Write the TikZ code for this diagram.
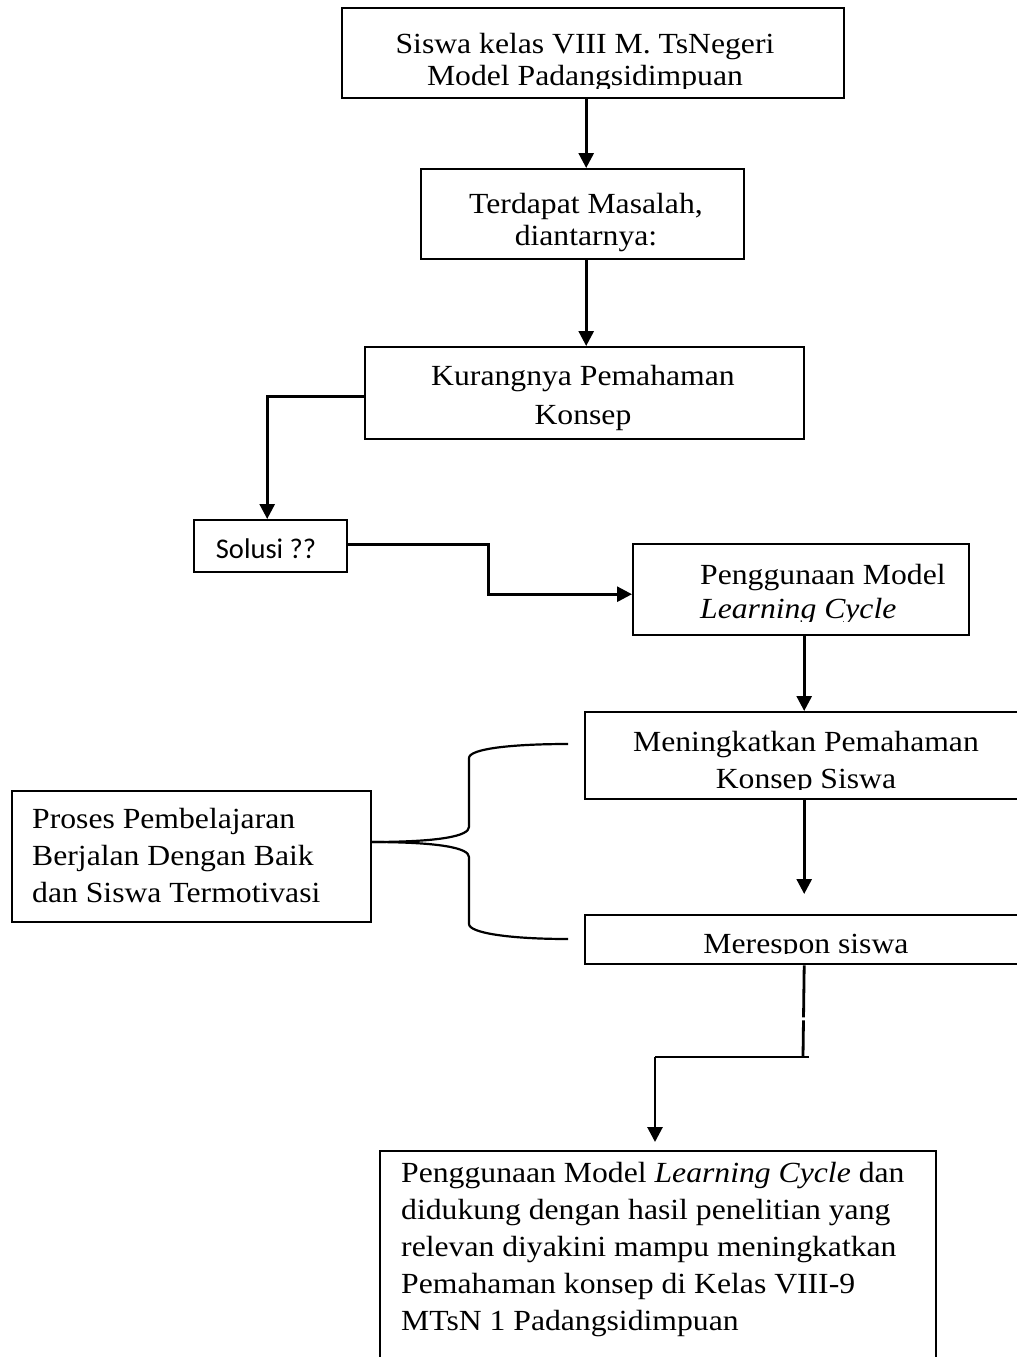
\documentclass[tikz,border=0pt]{standalone}
\usepackage{fontspec}
\setmainfont{Liberation Serif}[FakeStretch=1.085]
\newfontfamily\calibrifont{Carlito}
\usetikzlibrary{arrows.meta}

\tikzset{
  boxshape/.style={draw, line width=2.4pt, inner sep=0pt, anchor=north west},
  txt/.style={inner sep=0pt, anchor=base, align=center},
  conn/.style={line width=2.8pt},
  arr/.style={conn, -{Triangle[length=15pt,width=15pt]}},
  bracepath/.style={line width=2.2pt},
}

\begin{document}
\begin{tikzpicture}[x=1pt,y=-1pt]
\clip (0,0) rectangle (1017,1357);
\fill[white] (0,0) rectangle (1017,1357);

% boxes
\node[boxshape, minimum width=502pt, minimum height=90pt] (top) at (341,7) {};
\node[boxshape, minimum width=323pt, minimum height=90pt] (terd) at (420,168) {};
\node[boxshape, minimum width=439pt, minimum height=92pt] (kur) at (364,346) {};
\node[boxshape, minimum width=153pt, minimum height=52pt] (sol) at (193,519) {};
\node[boxshape, minimum width=336pt, minimum height=91pt] (peng) at (632,543) {};
\node[boxshape, minimum width=438pt, minimum height=87pt] (men) at (584,711) {};
\node[boxshape, minimum width=438pt, minimum height=49pt] (mer) at (584,914) {};
\node[boxshape, minimum width=359pt, minimum height=131pt] (pro) at (11,790) {};
\node[boxshape, minimum width=556pt, minimum height=240pt] (bot) at (379,1150) {};

% texts (each node is placed by the baseline of its last line)
\begin{scope}
  \clip (341,7) rectangle (843,88);
  \node[txt, font=\fontsize{29.2pt}{32pt}\selectfont] (top-t) at (585,85)
    {Siswa kelas VIII M. TsNegeri\\Model Padangsidimpuan};
\end{scope}
\node[txt, font=\fontsize{29.2pt}{32pt}\selectfont] (terd-t) at (586,245)
  {Terdapat Masalah,\\diantarnya:};
\node[txt, font=\fontsize{29.2pt}{39pt}\selectfont] (kur-t) at (583,424)
  {Kurangnya Pemahaman\\Konsep};
\node[txt, font=\calibrifont\fontsize{28.5pt}{34pt}\selectfont] (sol-t) at (266,558) {Solusi ??};
\begin{scope}
  \clip (632,543) rectangle (968,621);
  \node[txt, align=left, anchor=base west, font=\fontsize{29.2pt}{34pt}\selectfont] (peng-t) at (700,618)
    {Penggunaan Model\\\textit{Learning Cycle}};
\end{scope}
\begin{scope}
  \clip (584,711) rectangle (1022,789);
  \node[txt, font=\fontsize{29.2pt}{37pt}\selectfont] (men-t) at (806,788)
    {Meningkatkan Pemahaman\\Konsep Siswa};
\end{scope}
\begin{scope}
  \clip (584,914) rectangle (1022,953);
  \node[txt, font=\fontsize{29.2pt}{37pt}\selectfont] (mer-t) at (806,953) {Merespon siswa};
\end{scope}
\node[txt, align=left, anchor=base west, font=\fontsize{29.2pt}{37pt}\selectfont] (pro-t) at (32,902)
  {Proses Pembelajaran\\Berjalan Dengan Baik\\dan Siswa Termotivasi};
\node[txt, align=left, anchor=base west, font=\fontsize{29.2pt}{37pt}\selectfont] (bot-t) at (401,1330)
  {Penggunaan Model \textit{Learning Cycle} dan\\didukung dengan hasil penelitian yang\\relevan diyakini mampu meningkatkan\\Pemahaman konsep di Kelas VIII-9\\MTsN 1 Padangsidimpuan};

% connectors
\draw[arr] ([xshift=-7pt]top.south) -- ([xshift=-7pt]top.south |- terd.north);
\draw[arr] ([xshift=3.5pt]terd.south) -- ([xshift=3.5pt]terd.south |- kur.north);
\draw[arr] ([yshift=-3pt]kur.west) -| ([xshift=-3.5pt]sol.north);
\draw[arr] ([yshift=2pt]sol.east) -- ++(140,0) |- ([yshift=-4.5pt]peng.west);
\draw[arr] ([xshift=3pt]peng.south) -- ([xshift=3pt]peng.south |- men.north);
\draw[arr, shorten >=20pt] (men.south) -- (mer.north);

\coordinate (k1) at (803,1057);
\coordinate (k2) at (655,1057);
\draw[conn, dash pattern=on 52pt off 3pt on 200pt] (mer.south) -- (k1);
\draw[conn] ([xshift=6pt]k1) -- (k2);
\draw[arr, shorten >=8pt] (k2) -- (k2 |- bot.north);

% brace joining the two outcome boxes
\coordinate (j) at (370,842);
\coordinate (bt) at (568,744);
\coordinate (bb) at (568,939);
\draw[bracepath] (j) .. controls (440,842) and (469,836) .. (469,827) -- (469,758)
  .. controls (469,749) and (510,744) .. (bt);
\draw[bracepath] (j) .. controls (440,842) and (469,848) .. (469,857) -- (469,924)
  .. controls (469,933) and (510,939) .. (bb);
\end{tikzpicture}
\end{document}
